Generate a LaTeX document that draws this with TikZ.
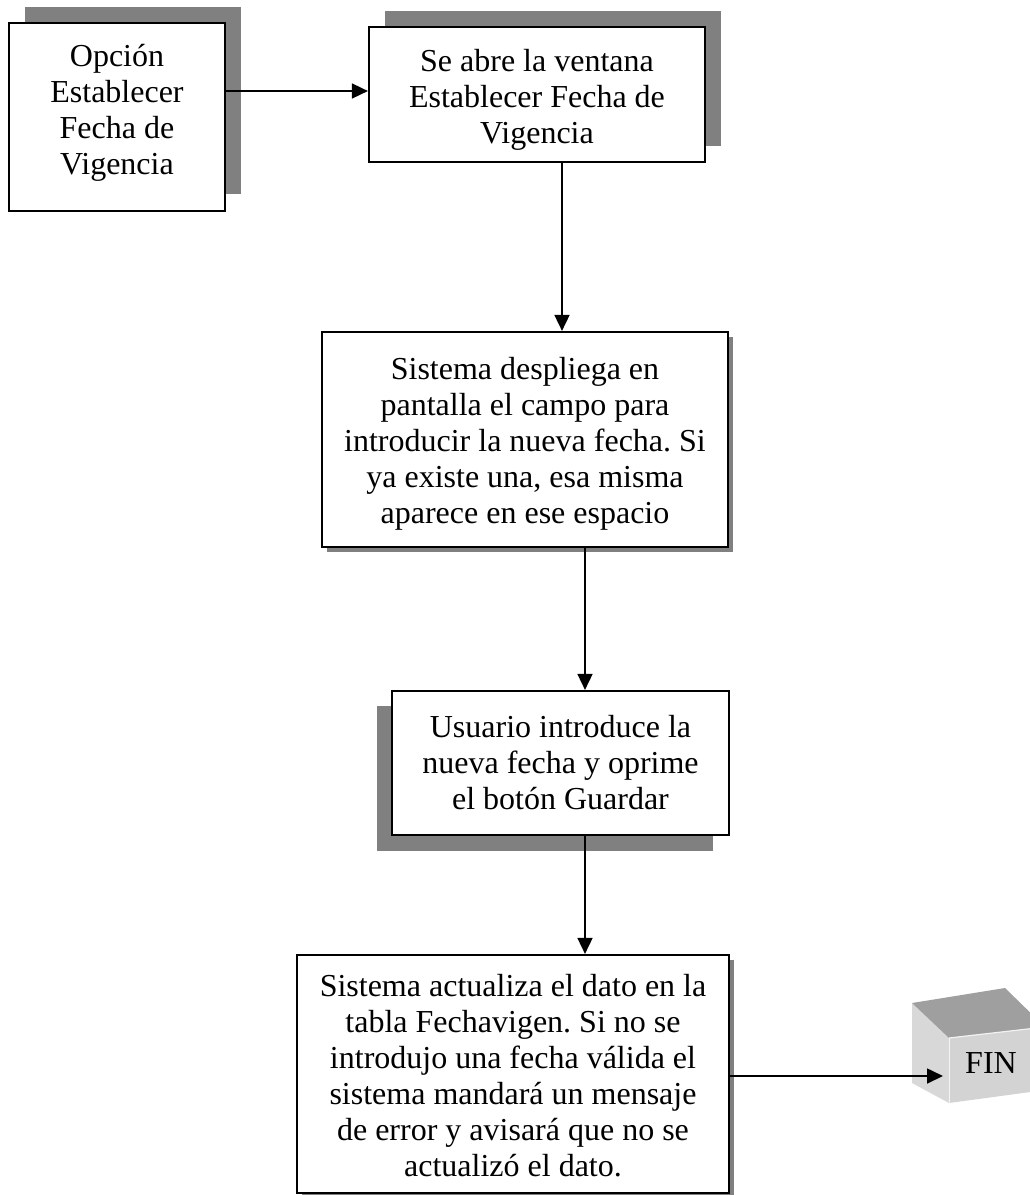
\documentclass[tikz,border=0pt]{standalone}
\usepackage{fontspec}
\setmainfont{Liberation Serif}
\usetikzlibrary{arrows.meta,calc}
\definecolor{shadowgray}{HTML}{808080}
\definecolor{cubetop}{HTML}{9F9F9F}
\definecolor{cubeleft}{HTML}{D8D8D8}
\definecolor{cubefront}{HTML}{D3D3D3}
\frenchspacing
\begin{document}
\begin{tikzpicture}[x=1pt,y=-1pt,
  stepbox/.style={draw=black,line width=2.2pt,fill=white,inner sep=0pt},
  boxtext/.style={align=center,inner sep=0pt,font=\fontsize{32}{36}\selectfont},
  shade/.style={fill=shadowgray,draw=none},
  arr/.style={line width=1.7pt,-{Triangle[length=16pt,width=15pt]}}]
\useasboundingbox (0,0) rectangle (1029,1195);
\fill[white] (0,0) rectangle (1029,1195);
% shadows
\fill[shade] (25,7) rectangle (241,194);
\fill[shade] (385,11) rectangle (721,146);
\fill[shade] (327,337) rectangle (733,552);
\fill[shade] (377,706) rectangle (713,851);
\fill[shade] (302,960) rectangle (734,1200);
% boxes
\node[stepbox,minimum width=216pt,minimum height=188pt] (b1) at (117,117) {};
\node[boxtext] (t1) at (117,113) {Opción\\Establecer\\Fecha de\\Vigencia};
\node[stepbox,minimum width=336pt,minimum height=135pt] (b2) at (537,94.5) {};
\node[boxtext] (t2) at (537,100) {Se abre la ventana\\Establecer Fecha de\\Vigencia};
\node[stepbox,minimum width=406pt,minimum height=215pt] (b3) at (525,439.5) {};
\node[boxtext] (t3) at (525,444) {Sistema despliega en\\pantalla el campo para\\introducir la nueva fecha. Si\\ya existe una, esa misma\\aparece en ese espacio};
\node[stepbox,minimum width=337pt,minimum height=144pt] (b4) at (560.5,763) {};
\node[boxtext] (t4) at (560.5,763) {Usuario introduce la\\nueva fecha y oprime\\el botón Guardar};
\node[stepbox,minimum width=432pt,minimum height=238pt] (b5) at (513,1074) {};
\node[boxtext] (t5) at (513,1076) {Sistema actualiza el dato en la\\tabla Fechavigen. Si no se\\introdujo una fecha válida el\\sistema mandará un mensaje\\de error y avisará que no se\\actualizó el dato.};
% FIN cube
\fill[cubeleft] (912,1003) -- (949,1038) -- (949,1103) -- (912,1083) -- cycle;
\fill[cubetop] (912,1003) -- (1005,988) -- (1045,1027) -- (949,1038) -- cycle;
\fill[cubefront] (949,1038) -- (1045,1027) -- (1045,1090) -- (949,1103) -- cycle;
\draw[white!90!gray,line width=1.2pt] (949,1038) -- (1045,1027);
\draw[white!92!gray,line width=1pt] (949,1038) -- (949,1103);
\node[boxtext] (fin) at (991,1063) {FIN};
\coordinate (finin) at (943,1076);
% connectors
\coordinate (c2) at (562,0);
\coordinate (c3) at (585,0);
\draw[arr] (b1.east |- 0,91) -- (b2.west |- 0,91);
\draw[arr] (b2.south -| c2) -- (b3.north -| c2);
\draw[arr] (b3.south -| c3) -- (b4.north -| c3);
\draw[arr] (b4.south -| c3) -- (b5.north -| c3);
\draw[arr] (b5.east |- finin) -- (finin);
\end{tikzpicture}
\end{document}
